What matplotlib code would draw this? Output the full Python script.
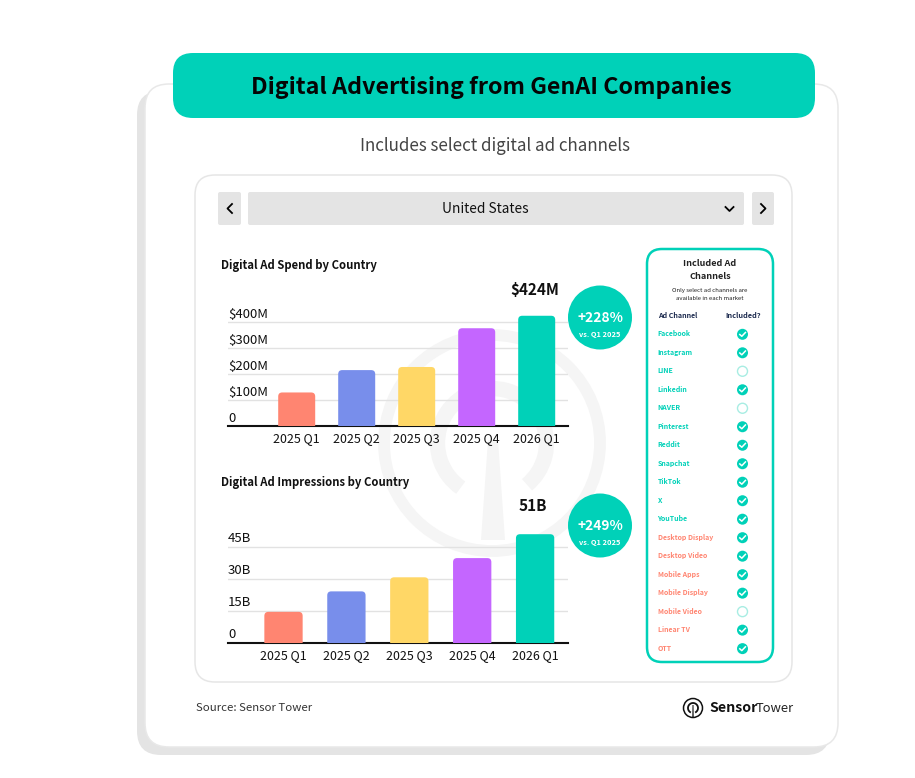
import matplotlib
matplotlib.use("Agg")
import matplotlib.pyplot as plt
from matplotlib.patches import Circle, FancyBboxPatch, Polygon, Arc
from matplotlib.transforms import ScaledTranslation

plt.rcParams['font.family'] = ['Noto Sans CJK SC', 'DejaVu Sans']

# === DATA ===
quarters = ["2025 Q1", "2025 Q2", "2025 Q3", "2025 Q4", "2026 Q1"]
spend = [129, 215, 227, 376, 424]
impressions = [14.6, 24.2, 30.8, 39.8, 51]
spend_ticks = [0, 100, 200, 300, 400]
spend_tick_labels = ["0", "$100M", "$200M", "$300M", "$400M"]
impression_ticks = [0, 15, 30, 45]
impression_tick_labels = ["0", "15B", "30B", "45B"]
channels = ["Facebook", "Instagram", "LINE", "Linkedin", "NAVER", "Pinterest", "Reddit",
            "Snapchat", "TikTok", "X", "YouTube", "Desktop Display", "Desktop Video",
            "Mobile Apps", "Mobile Display", "Mobile Video", "Linear TV", "OTT"]
included = [1, 1, 0, 1, 0, 1, 1, 1, 1, 1, 1, 1, 1, 1, 1, 0, 1, 1]

TEAL = "#00D1B8"
CORAL = "#FF8571"
WATERMARK = "#F5F5F5"
BAR_COLORS = [CORAL, "#788EEB", "#FFD766", "#C466FF", TEAL]
W, H = 915, 778


def px(size):
    # font size in picture pixels -> points at dpi 100
    return size * 0.72


fig = plt.figure(figsize=(W / 100, H / 100), dpi=100, facecolor="white")

# page layer in pixel coordinates
bg = fig.add_axes([0, 0, 1, 1])
bg.set_xlim(0, W)
bg.set_ylim(H, 0)
bg.axis("off")


def box(x0, y0, x1, y1, r, fc, ec="none", lw=0):
    bg.add_patch(FancyBboxPatch((x0, y0), x1 - x0, y1 - y0,
                                boxstyle=f"round,pad=0,rounding_size={r}",
                                fc=fc, ec=ec, lw=lw))


def label(x, y, s, size, ha="center", weight="normal", color="#111111", z=None):
    # the CJK font sits high in its line box, so nudge down a little
    bg.text(x, y + size * 0.09, s, ha=ha, va="center", fontsize=px(size),
            fontweight=weight, color=color, zorder=z)


# outer card and header
box(137, 91, 830, 755, 24, "#E4E4E4")
box(145, 84, 838, 747, 24, "white", "#E8E8E8", 1.1)
box(173, 53, 815, 118, 20, TEAL)
label(491, 85, "Digital Advertising from GenAI Companies", 23.3, weight="bold", color="#050505")
label(495, 144, "Includes select digital ad channels", 17, weight="light", color="#444444")

# inner card
box(195, 175, 792, 682, 20, "white", "#E6E6E6", 1.1)

# selector row
box(218, 192, 241, 225, 2, "#E4E4E4")
box(248, 192, 744, 225, 2, "#E4E4E4")
box(752, 192, 774, 225, 2, "#E4E4E4")
bg.plot([232, 227.5, 232], [204, 208.5, 213], color="black", lw=1.3)
bg.plot([761, 765.5, 761], [204, 208.5, 213], color="black", lw=1.3)
bg.plot([725.5, 729.5, 733.5], [207, 211, 207], color="black", lw=1.3)
label(485, 208, "United States", 13.7)

# watermark
bg.add_patch(Circle((492, 443), 108, fc="none", ec=WATERMARK, lw=8.5, zorder=1))
bg.add_patch(Arc((492, 443), 109, 109, theta1=125, theta2=50, color=WATERMARK, lw=11, zorder=1))
bg.add_patch(Polygon([(488, 440), (498, 440), (505, 540), (481, 540)], fc=WATERMARK, ec="none", zorder=1))

# chart titles
label(221, 264, "Digital Ad Spend by Country", 11.3, ha="left", weight="bold")
label(221, 481, "Digital Ad Impressions by Country", 11.3, ha="left", weight="bold")


def bar_chart(x0, x1, y_base, y_top, first, step, bar_w, px_per_unit, values, ticks, tick_labels):
    ax = fig.add_axes([x0 / W, 1 - y_base / H, (x1 - x0) / W, (y_base - y_top) / H])
    ax.patch.set_alpha(0)
    ax.set_xlim((x0 - first) / step, (x1 - first) / step)
    ax.set_ylim(0, (y_base - y_top) / px_per_unit)
    for side in ["top", "right", "left"]:
        ax.spines[side].set_visible(False)
    ax.spines["bottom"].set_linewidth(1.5)
    ax.spines["bottom"].set_color("#111111")
    ax.set_xticks(range(len(quarters)))
    ax.set_xticklabels(quarters, fontsize=px(12.4), color="#111111")
    ax.set_yticks(ticks)
    ax.set_yticklabels(tick_labels, fontsize=px(13.2), color="#111111", ha="left", va="bottom")
    ax.tick_params(axis="x", length=0, pad=4)
    ax.tick_params(axis="y", length=0, pad=0)
    # lift the y labels a bit more off their gridlines
    lift = ScaledTranslation(0, 1.5 / 100, fig.dpi_scale_trans)
    for t in ax.get_yticklabels():
        t.set_transform(t.get_transform() + lift)
    ax.grid(axis="y", color="#E2E2E2", lw=1)
    ax.set_axisbelow(True)
    w = bar_w / step
    r = 4 / step
    for i, v in enumerate(values):
        # start below zero so only the top corners look rounded
        ax.add_patch(FancyBboxPatch((i - w / 2, -20 / px_per_unit), w, v + 20 / px_per_unit,
                                    boxstyle=f"round,pad=0,rounding_size={r}",
                                    mutation_aspect=step / px_per_unit,
                                    fc=BAR_COLORS[i], ec="none", zorder=3))
    return ax


bar_chart(228, 568, 426, 300, 296.7, 60, 37, 0.26, spend, spend_ticks, spend_tick_labels)
bar_chart(228, 568, 643, 520, 283.5, 62.9, 38.3, 32 / 15, impressions, impression_ticks, impression_tick_labels)

# callouts
label(535, 289, "$424M", 15.3, weight="bold")
label(533, 505, "51B", 15.3, weight="bold")
for cy, change in [(317.5, "+228%"), (525.5, "+249%")]:
    bg.add_patch(Circle((600, cy), 32, fc=TEAL, ec="none", zorder=5))
    label(600, cy - 1, change, 13.8, weight="bold", color="white", z=6)
    label(600, cy + 16.5, "vs. Q1 2025", 7.4, weight="bold", color="white", z=6)

# channel panel
box(647, 249, 773, 662, 15, "white", TEAL, 1.8)
label(710, 263, "Included Ad", 9.1, weight="bold", color="#222222")
label(710, 276, "Channels", 9.1, weight="bold", color="#222222")
label(710, 289.5, "Only select ad channels are", 6, color="#222222")
label(710, 297.5, "available in each market", 6, color="#222222")
label(658, 315, "Ad Channel", 7.1, ha="left", weight="bold", color="#1D2B4F")
label(743, 315, "Included?", 7.3, weight="bold", color="#1D2B4F")
for i, (name, inc) in enumerate(zip(channels, included)):
    y = 333.3 + i * 18.49
    label(657.5, y, name, 7, ha="left", weight="bold", color=TEAL if i < 11 else CORAL)
    cy = y + 1
    if inc:
        bg.add_patch(Circle((742.5, cy), 5.5, fc=TEAL, ec="none"))
        bg.plot([739.8, 741.8, 745.4], [cy + 0.2, cy + 2, cy - 1.8], color="white", lw=1.1)
    else:
        bg.add_patch(Circle((742.5, cy), 5, fc="white", ec="#A8EDE3", lw=1))

# footer
label(196, 707, "Source: Sensor Tower", 11.4, ha="left", color="#333333")
bg.add_patch(Circle((693, 708), 9.5, fc="none", ec="#111111", lw=1.1))
bg.add_patch(Arc((693, 708), 10, 10, theta1=115, theta2=65, color="#111111", lw=1.3))
bg.add_patch(Polygon([(692.5, 705), (693.5, 705), (693.7, 718), (692.3, 718)], fc="#111111", ec="none"))
label(709, 707, "Sensor", 14.2, ha="left", weight="bold")
label(794, 707, "Tower", 13, ha="right", weight="light", color="#222222")

fig.savefig("out.png", dpi=100)
